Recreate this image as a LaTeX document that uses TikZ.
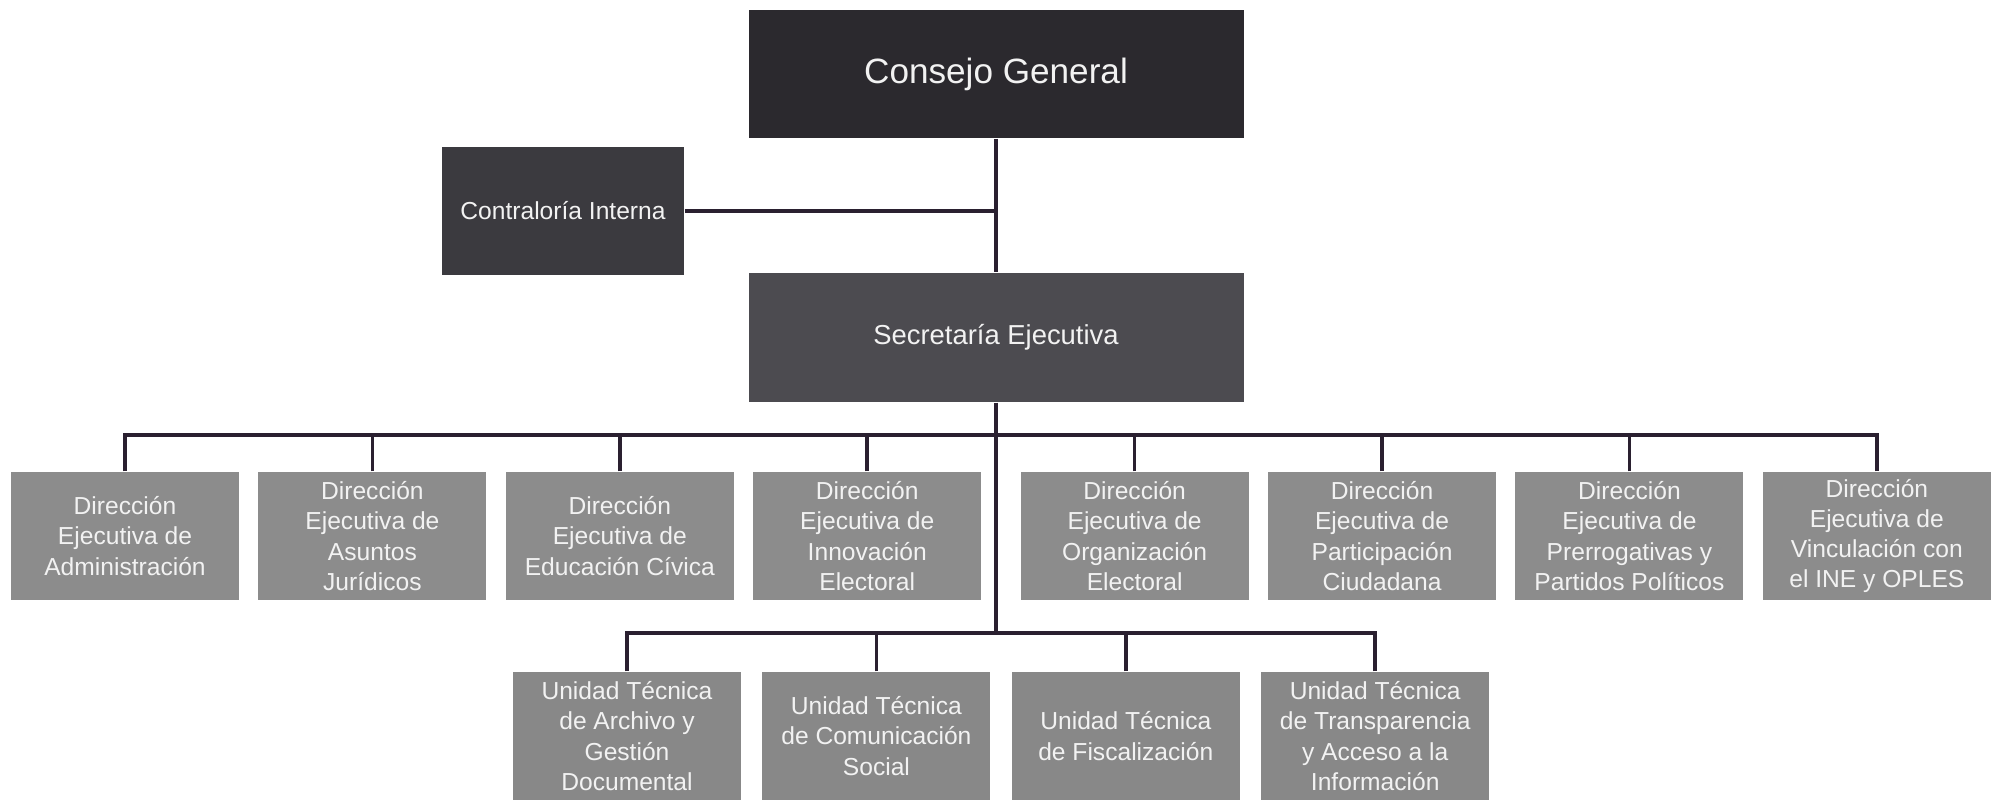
\documentclass[tikz,border=0pt]{standalone}
\usepackage{fontspec}
\setmainfont{Liberation Sans}
\usetikzlibrary{positioning}

\definecolor{tonoConsejo}{HTML}{2B292E}
\definecolor{tonoContra}{HTML}{3B3A3F}
\definecolor{tonoSecre}{HTML}{4C4B50}
\definecolor{tonoDir}{HTML}{8C8C8C}
\definecolor{tonoLinea}{HTML}{2A2030}

\begin{document}
\begin{tikzpicture}
[
	node distance = 0.18cm,
	caja/.style={rectangle, inner sep=0.05cm, align=center, text=white!95!black},
	consejo/.style={caja, fill=tonoConsejo, minimum width=4.95cm, minimum height=1.28cm, font=\fontsize{10}{12}\selectfont},
	contra/.style={caja, fill=tonoContra, minimum width=2.42cm, minimum height=1.28cm, font=\fontsize{7}{8.5}\selectfont},
	secre/.style={caja, fill=tonoSecre, minimum width=4.95cm, minimum height=1.29cm, font=\fontsize{7.8}{9.4}\selectfont},
	direccion/.style={caja, fill=tonoDir, minimum width=2.28cm, minimum height=1.28cm, font=\fontsize{7}{8.6}\selectfont},
	unidad/.style={direccion, fill=tonoDir!97!black},
	enlace/.style={draw=tonoLinea, line width=1pt}
  ]
	\useasboundingbox (0,0) rectangle (19.93,-8.03);

	\node[consejo] (CG) at (9.96,-0.74) {Consejo General};
	\node[contra] (CI) at (5.63,-2.11) {Contraloría Interna};
	\node[secre] (SE) at (9.96,-3.375) {Secretaría Ejecutiva};

	% direcciones ejecutivas
	\node[direccion] (DEA) at (1.25,-5.36) {Dirección\\Ejecutiva de\\Administración};
	\node[direccion, right=of DEA] (DEAJ) {Dirección\\Ejecutiva de\\Asuntos\\Jurídicos};
	\node[direccion, right=of DEAJ] (DEEC) {Dirección\\Ejecutiva de\\Educación Cívica};
	\node[direccion, right=of DEEC] (DEIE) {Dirección\\Ejecutiva de\\Innovación\\Electoral};
	\node[direccion, right=0.38cm of DEIE] (DEOE) {Dirección\\Ejecutiva de\\Organización\\Electoral};
	\node[direccion, right=of DEOE] (DEPC) {Dirección\\Ejecutiva de\\Participación\\Ciudadana};
	\node[direccion, right=of DEPC] (DEPPP) {Dirección\\Ejecutiva de\\Prerrogativas y\\Partidos Políticos};
	\node[direccion, right=of DEPPP] (DEVIO) {Dirección\\Ejecutiva de\\Vinculación con\\el INE y OPLES};

	% unidades tecnicas
	\node[unidad] (UTAG) at (6.27,-7.36) {Unidad Técnica\\de Archivo y\\Gestión\\Documental};
	\node[unidad, right=0.2cm of UTAG] (UTCS) {Unidad Técnica\\de Comunicación\\Social};
	\node[unidad, right=0.2cm of UTCS] (UTF) {Unidad Técnica\\de Fiscalización};
	\node[unidad, right=0.2cm of UTF] (UTTA) {Unidad Técnica\\de Transparencia\\y Acceso a la\\Información};

	\coordinate (BusD) at (9.96,-4.35);
	\coordinate (BusU) at (9.96,-6.33);

	\draw[enlace] (CG) -- (SE);
	\draw[enlace] (CI) -- (CI -| CG);
	\draw[enlace] (SE) -- (BusU);
	\foreach \d in {DEA, DEAJ, DEEC, DEIE, DEOE, DEPC, DEPPP, DEVIO}
		\draw[enlace] (\d.north) |- (BusD);
	\foreach \u in {UTAG, UTCS, UTF, UTTA}
		\draw[enlace] (\u.north) |- (BusU);
\end{tikzpicture}
\end{document}
